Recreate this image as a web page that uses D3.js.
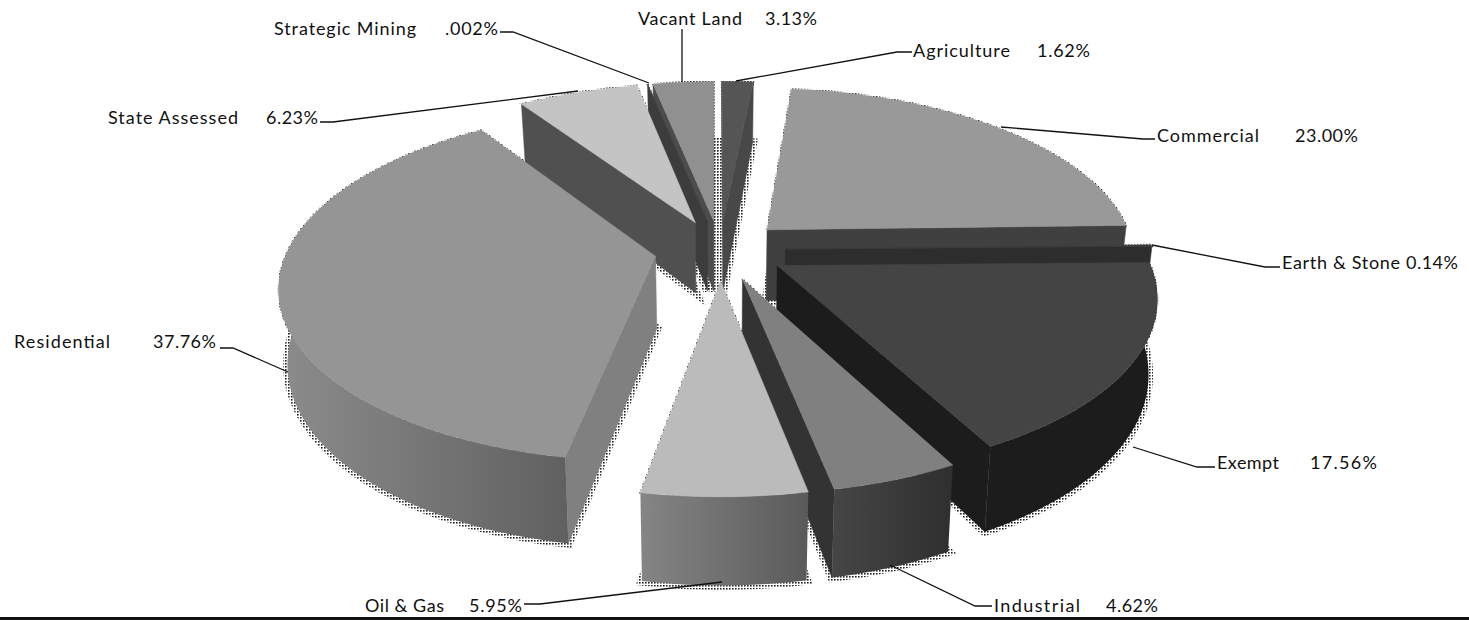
<!DOCTYPE html>
<html>
<head>
<meta charset="utf-8">
<script src="https://cdn.jsdelivr.net/npm/d3@7"></script>
<style>
  html, body { margin: 0; padding: 0; background: #fff; overflow: hidden; }
  text { font-family: Lato, "Open Sans", sans-serif; font-size: 18px; fill: #111; }
</style>
</head>
<body>
<script>
var categories = ["Agriculture", "Commercial", "Earth & Stone", "Exempt", "Industrial", "Oil & Gas", "Residential", "State Assessed", "Strategic Mining", "Vacant Land"];
var shares = [1.62, 23.00, 0.14, 17.56, 4.62, 5.95, 37.76, 6.23, 0.002, 3.13];
var shareLabels = ["1.62%", "23.00%", "0.14%", "17.56%", "4.62%", "5.95%", "37.76%", "6.23%", ".002%", "3.13%"];

var width = 1469, height = 620;

// perspective of the pie
var cx = 720, cy = 250, rx = 368, ry = 170, depth = 72, persp = 0.16, explode = 0.178;

// top, radial wall, outer wall left and right
var topFill = ["#555555", "#999999", "#3c3c3c", "#444444", "#808080", "#bbbbbb", "#959595", "#c4c4c4", "#454545", "#909090"];
var wallFill = ["#484848", "#404040", "#2d2d2d", "#1c1c1c", "#333333", "#333333", "#808080", "#505050", "#3c3c3c", "#4c4c4c"];
var outerFill = [["#484848", "#484848"], ["#404040", "#404040"], ["#2d2d2d", "#2d2d2d"], ["#1c1c1c", "#1c1c1c"], ["#464646", "#2f2f2f"], ["#858585", "#5a5a5a"], ["#8c8c8c", "#606060"], ["#505050", "#505050"], ["#3c3c3c", "#3c3c3c"], ["#4c4c4c", "#4c4c4c"]];

// label placement: name x and width, value x and width, baseline y, leader line
var labelLayout = [
  { x: 913, w: 97, vx: 1037, vw: 53, y: 57, line: [[912, 52], [897, 52], [736, 81]] },
  { x: 1157, w: 102, vx: 1295, vw: 63, y: 142, line: [[1155, 139], [1143, 139], [1001, 127]] },
  { x: 1282, w: 118, vx: 1406, vw: 52, y: 269, line: [[1280, 267], [1265, 267], [1152, 245]] },
  { x: 1217, w: 62, vx: 1310, vw: 67, y: 469, line: [[1215, 467], [1197, 467], [1133, 447]] },
  { x: 994, w: 86, vx: 1106, vw: 52, y: 612, line: [[992, 606], [975, 606], [890, 565]] },
  { x: 365, w: 79, vx: 469, vw: 53, y: 612, line: [[524, 604], [540, 604], [722, 582]] },
  { x: 14, w: 96, vx: 153, vw: 63, y: 348, line: [[220, 348], [233, 348], [288, 372]] },
  { x: 108, w: 130, vx: 266, vw: 52, y: 124, line: [[320, 122], [333, 122], [578, 91]] },
  { x: 274, w: 142, vx: 445, vw: 53, y: 35, line: [[500, 32], [513, 32], [649, 83]] },
  { x: 638, w: 104, vx: 765, vw: 52, y: 25, line: [[682, 29], [682, 82]] }
];

var rad = function (d) { return d * Math.PI / 180; };

var pie = d3.pie().sort(null).value(function (d) { return d; })
  .startAngle(rad(-0.15)).endAngle(rad(359.85));

var slices = pie(shares).map(function (d, i) {
  d.index = i;
  d.mid = (d.startAngle + d.endAngle) / 2;
  return d;
});

var svg = d3.select("body").append("svg")
  .attr("width", width)
  .attr("height", height)
  .style("display", "block");

var defs = svg.append("defs");

// the dithered shadow round the slices
var dots = defs.append("pattern")
  .attr("id", "dots")
  .attr("patternUnits", "userSpaceOnUse")
  .attr("width", 3)
  .attr("height", 3);
dots.append("rect").attr("width", 1.6).attr("height", 1.6).attr("fill", "#222");

function project(X, V, z) {
  var s = 1 / (1 - persp * V);
  return [
    cx + rx * X * s * (1 - 0.02 * z),
    cy + ry * V * s + depth * z * s
  ];
}

function rim(d, a, z) {
  return project(
    Math.sin(a) + explode * Math.sin(d.mid),
    -Math.cos(a) - explode * Math.cos(d.mid),
    z
  );
}

function apex(d, z) {
  return project(explode * Math.sin(d.mid), -explode * Math.cos(d.mid), z);
}

function arcAngles(a0, a1) {
  var n = Math.max(2, Math.ceil((a1 - a0) / rad(2)));
  var step = d3.scaleLinear().domain([0, n]).range([a0, a1]);
  return d3.range(n + 1).map(step);
}

var path = d3.line().curve(d3.curveLinearClosed);

function topFace(d) {
  return [apex(d, 0)].concat(arcAngles(d.startAngle, d.endAngle).map(function (a) { return rim(d, a, 0); }));
}

function bottomFace(d) {
  return [apex(d, 1)].concat(arcAngles(d.startAngle, d.endAngle).map(function (a) { return rim(d, a, 1); }));
}

function radialWall(d, a) {
  return [apex(d, 0), rim(d, a, 0), rim(d, a, 1), apex(d, 1)];
}

// only the part of the rim that looks at the viewer, between 90 and 270 degrees
function outerWall(d) {
  var a0 = Math.max(d.startAngle, rad(90)), a1 = Math.min(d.endAngle, rad(270));
  if (a1 <= a0) return null;
  var angles = arcAngles(a0, a1);
  return angles.map(function (a) { return rim(d, a, 0); })
    .concat(angles.slice().reverse().map(function (a) { return rim(d, a, 1); }));
}

function facesViewer(poly) {
  return d3.polygonArea(poly) > 0;
}

var order = slices.slice().sort(function (a, b) {
  return -Math.cos(a.mid) - -Math.cos(b.mid);
});

// shadows go behind everything
var shadow = svg.append("g").attr("fill", "none").attr("stroke", "url(#dots)");
slices.forEach(function (d) {
  shadow.append("path").attr("d", path(bottomFace(d))).attr("stroke-width", 9);
  shadow.append("path").attr("d", path(topFace(d))).attr("stroke-width", 2);
});

var pieG = svg.append("g");

order.forEach(function (d) {
  var g = pieG.append("g");
  var i = d.index;

  [d.startAngle, d.endAngle].forEach(function (a) {
    var wall = radialWall(d, a);
    if (!facesViewer(a === d.startAngle ? wall : wall.slice().reverse())) return;
    g.append("path").attr("d", path(wall)).attr("fill", wallFill[i]).attr("stroke", wallFill[i]).attr("stroke-width", 0.5);
  });

  var outer = outerWall(d);
  if (outer) {
    var xs = d3.extent(outer, function (p) { return p[0]; });
    var grad = defs.append("linearGradient")
      .attr("id", "outer" + i)
      .attr("gradientUnits", "userSpaceOnUse")
      .attr("x1", xs[0]).attr("x2", xs[1])
      .attr("y1", 0).attr("y2", 0);
    grad.append("stop").attr("offset", 0).attr("stop-color", outerFill[i][0]);
    grad.append("stop").attr("offset", 1).attr("stop-color", outerFill[i][1]);
    g.append("path").attr("d", path(outer)).attr("fill", "url(#outer" + i + ")");
  }

  g.append("path").attr("d", path(topFace(d))).attr("fill", topFill[i]).attr("stroke", topFill[i]).attr("stroke-width", 0.5);
});

// labels and leader lines
var leader = d3.line();
var labels = svg.append("g");

categories.forEach(function (name, i) {
  var l = labelLayout[i];
  labels.append("path")
    .attr("d", leader(l.line))
    .attr("fill", "none")
    .attr("stroke", "#111")
    .attr("stroke-width", 1.3);
  labels.append("text").attr("x", l.x).attr("y", l.y)
    .attr("textLength", l.w).attr("lengthAdjust", "spacing").text(name);
  labels.append("text").attr("x", l.vx).attr("y", l.y)
    .attr("textLength", l.vw).attr("lengthAdjust", "spacing").text(shareLabels[i]);
});

// rule along the bottom
svg.append("line")
  .attr("x1", 0).attr("x2", width)
  .attr("y1", 618.5).attr("y2", 618.5)
  .attr("stroke", "#111")
  .attr("stroke-width", 3);
</script>
</body>
</html>
